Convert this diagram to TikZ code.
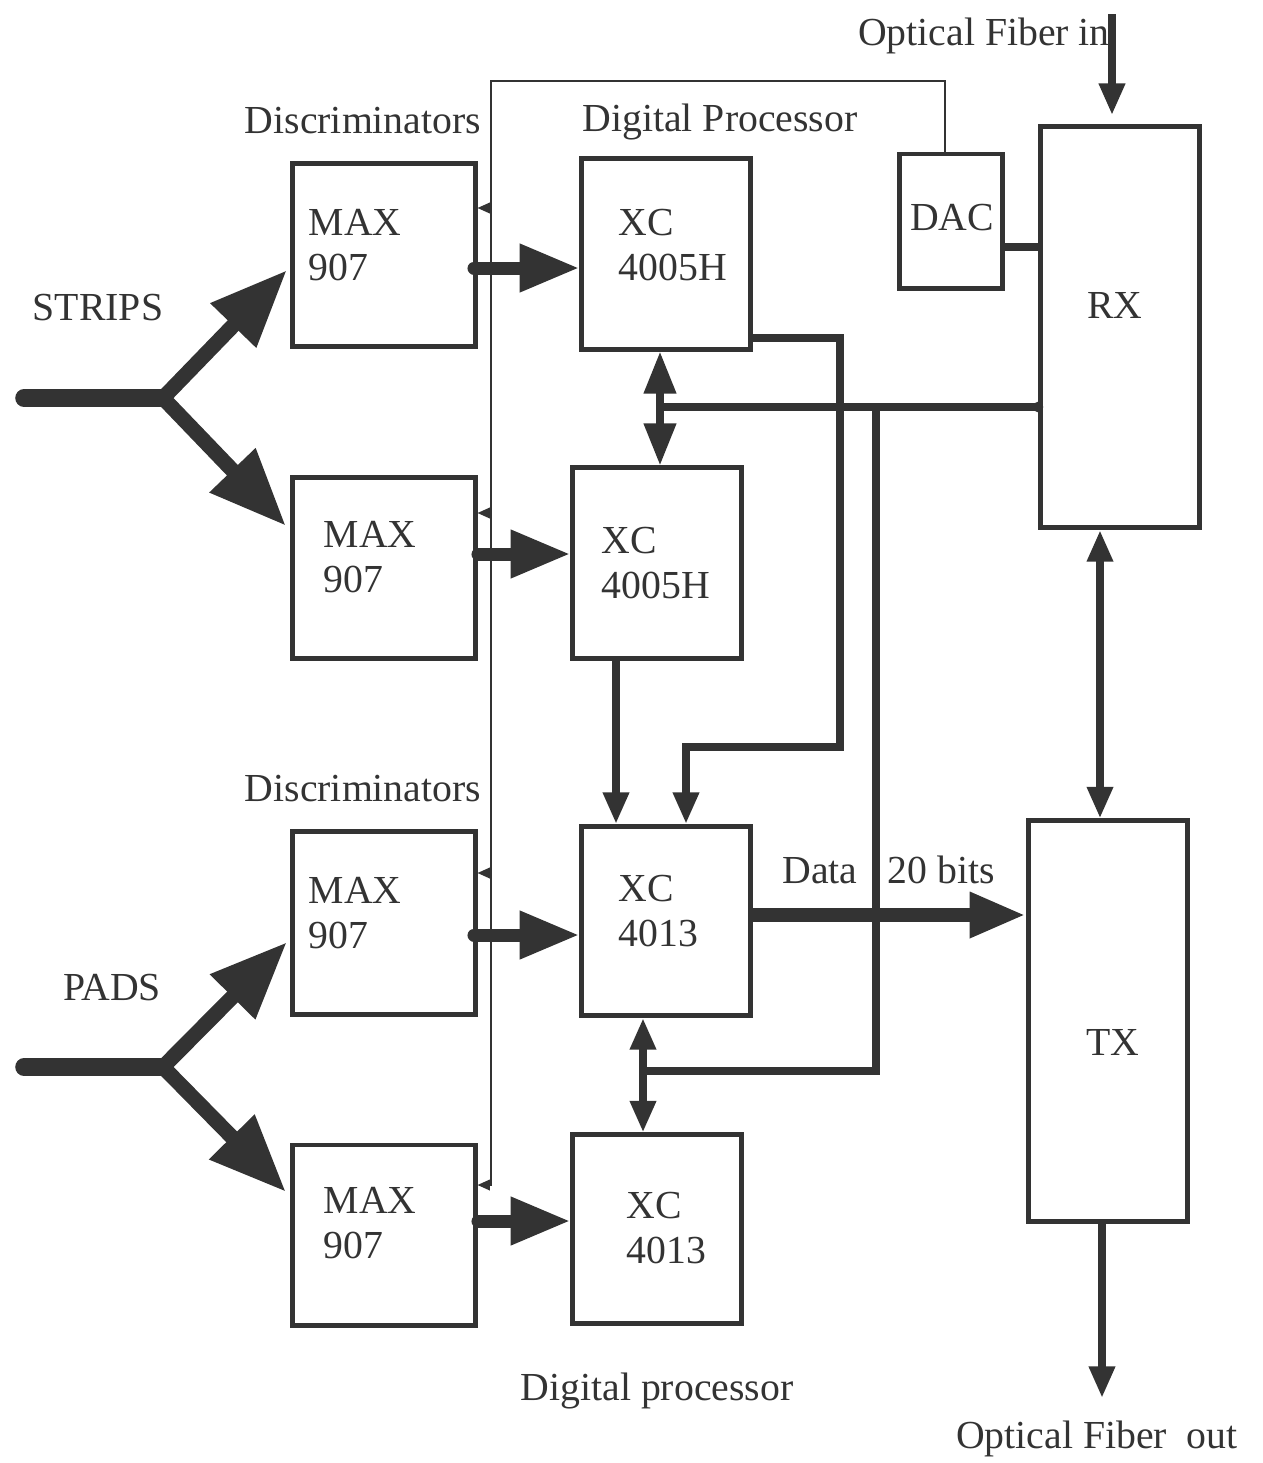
\documentclass[tikz,border=0pt]{standalone}
\usepackage{fontspec}
\setmainfont{Liberation Serif}
\usetikzlibrary{arrows.meta,calc}
\definecolor{ink}{HTML}{333333}

\begin{document}
\begin{tikzpicture}[x=0.01cm,y=-0.01cm,
    box/.style={draw=ink, line width=1.4pt, inner sep=0pt},
    lbl/.style={text=ink, inner sep=0pt, align=left,
      font=\fontsize{11.3pt}{12.8pt}\selectfont},
    fat/.style={draw=ink, line width=3.7pt, line cap=round,
      -{Triangle[length=17pt,width=12.8pt]}},
    fork/.style={draw=ink, line width=4.3pt, line cap=round,
      -{Triangle[length=22pt,width=17pt]}},
    bus/.style={draw=ink, line width=2.2pt},
    busarrow/.style={bus, -{Triangle[length=9pt,width=7pt]}},
    dbl/.style={bus, {Triangle[length=9pt,width=7pt]}-{Triangle[length=9pt,width=7pt]}},
    fb/.style={draw=ink, line width=0.5pt},
    fbarrow/.style={fb, -{Triangle[length=3.5pt,width=3pt]}}]
  \useasboundingbox (0,0) rectangle (1262,1463);

  % discriminators
  \node[box, minimum width=1.82cm, minimum height=1.82cm] (max1) at (384,255) {};
  \node[box, minimum width=1.82cm, minimum height=1.80cm] (max2) at (384,568) {};
  \node[box, minimum width=1.82cm, minimum height=1.82cm] (max3) at (384,923) {};
  \node[box, minimum width=1.82cm, minimum height=1.80cm] (max4) at (384,1235) {};
  \node[lbl, anchor=west] (max1t) at (308,245) {MAX\\907};
  \node[lbl, anchor=west] (max2t) at (323,557) {MAX\\907};
  \node[lbl, anchor=west] (max3t) at (308,913) {MAX\\907};
  \node[lbl, anchor=west] (max4t) at (323,1223) {MAX\\907};

  % digital processors
  \node[box, minimum width=1.68cm, minimum height=1.90cm] (xc1) at (666,254) {};
  \node[box, minimum width=1.68cm, minimum height=1.90cm] (xc2) at (657,563) {};
  \node[box, minimum width=1.68cm, minimum height=1.89cm] (xc3) at (666,921) {};
  \node[box, minimum width=1.68cm, minimum height=1.88cm] (xc4) at (657,1229) {};
  \node[lbl, anchor=west] (xc1t) at (618,245) {XC\\4005H};
  \node[lbl, anchor=west] (xc2t) at (601,563) {XC\\4005H};
  \node[lbl, anchor=west] (xc3t) at (618,911) {XC\\4013};
  \node[lbl, anchor=west] (xc4t) at (626,1228) {XC\\4013};

  % DAC, receiver, transmitter
  \node[box, minimum width=1.03cm, minimum height=1.34cm] (dac) at (951,221) {};
  \node[box, minimum width=1.59cm, minimum height=4.01cm] (rx) at (1120,327) {};
  \node[box, minimum width=1.59cm, minimum height=4.00cm] (tx) at (1108,1021) {};
  \node[lbl, anchor=base] (dact) at (952,230) {DAC};
  \node[lbl, anchor=base] (rxt) at (1115,318) {RX};
  \node[lbl, anchor=base] (txt) at (1113,1055) {TX};

  % captions
  \node[lbl, anchor=base] (disc1) at (363,133) {Discriminators};
  \node[lbl, anchor=base] (proc1) at (720,131) {Digital Processor};
  \node[lbl, anchor=base] (disc2) at (363,801) {Discriminators};
  \node[lbl, anchor=base] (proc2) at (657,1400) {Digital processor};
  \node[lbl, anchor=base] (strips) at (98,320) {STRIPS};
  \node[lbl, anchor=base] (pads) at (112,1000) {PADS};
  \node[lbl, anchor=base] (data) at (820,883) {Data};
  \node[lbl, anchor=base] (bits) at (941,883) {20 bits};
  \node[lbl, anchor=base] (fibin) at (984,45) {Optical Fiber in};
  \node[lbl, anchor=base] (fibout) at (1097,1448) {Optical Fiber\ \ out};

  % inputs
  \coordinate (sIn) at (24,398);
  \coordinate (sFork) at (163,398);
  \coordinate (sUp) at (287,270);
  \coordinate (sDn) at (286,526);
  \coordinate (pIn) at (24,1067);
  \coordinate (pFork) at (163,1067);
  \coordinate (pUp) at (287,942);
  \coordinate (pDn) at (286,1192);
  \draw[draw=ink, line width=5pt, line cap=round] (sIn) -- (sFork);
  \draw[fork] (sFork) -- (sUp);
  \draw[fork] (sFork) -- (sDn);
  \draw[draw=ink, line width=5pt, line cap=round] (pIn) -- (pFork);
  \draw[fork] (pFork) -- (pUp);
  \draw[fork] (pFork) -- (pDn);

  % discriminator outputs
  \coordinate (a1) at (474,268);
  \coordinate (a2) at (478,554);
  \coordinate (a3) at (474,935);
  \coordinate (a4) at (478,1221);
  \draw[fat] (a1) -- (a1 -| xc1.west);
  \draw[fat] (a2) -- (a2 -| xc2.west);
  \draw[fat] (a3) -- (a3 -| xc3.west);
  \draw[fat] (a4) -- (a4 -| xc4.west);

  % threshold line from the DAC
  \coordinate (fb0) at (945,152);
  \coordinate (fbTop) at (491,81);
  \coordinate (fb1) at (491,208);
  \coordinate (fb2) at (491,513);
  \coordinate (fb3) at (491,873);
  \coordinate (fb4) at (491,1185);
  \draw[fbarrow] (fb0 |- dac.north) |- (fbTop) -- (fb4) -- (fb4 -| max4.east);
  \draw[fbarrow] (fb1) -- (fb1 -| max1.east);
  \draw[fbarrow] (fb2) -- (fb2 -| max2.east);
  \draw[fbarrow] (fb3) -- (fb3 -| max3.east);

  % local bus
  \coordinate (b1) at (660,407);
  \coordinate (v1) at (876,407);
  \coordinate (b2) at (643,1071);
  \draw[bus, {Triangle[length=12pt,width=8.8pt]}-{Triangle[length=12pt,width=8.8pt]}]
    (b1 |- xc1.south) -- (b1 |- xc2.north);
  \draw[bus] (b1) -- (b1 -| rx.west);
  \fill[ink] (b1 -| rx.west) circle (1.5pt);
  \draw[bus] (v1) |- (b2);
  \draw[dbl] (b2 |- xc3.south) -- (b2 |- xc4.north);

  % links into the XC 4013
  \coordinate (c1) at (752,338);
  \coordinate (c2) at (840,747);
  \coordinate (c3) at (686,747);
  \draw[busarrow] (c1) -| (c2) -- (c3) -- (c3 |- xc3.north);
  \coordinate (e1) at (616,740);
  \draw[busarrow] (e1 |- xc2.south) -- (e1 |- xc3.north);
  \coordinate (d0) at (752,915);
  \draw[draw=ink, line width=4pt, -{Triangle[length=16pt,width=12pt]}] (d0) -- (d0 -| tx.west);

  % optical link
  \coordinate (k1) at (1005,247);
  \draw[bus] (k1) -- (k1 -| rx.west);
  \coordinate (fin) at (1112,14);
  \draw[busarrow, shorten >=2.5pt] (fin) -- (fin |- rx.north);
  \coordinate (r1) at (1100,675);
  \draw[dbl] (r1 |- rx.south) -- (r1 |- tx.north);
  \coordinate (fout) at (1102,1398);
  \draw[busarrow] (fout |- tx.south) -- (fout);
\end{tikzpicture}
\end{document}
